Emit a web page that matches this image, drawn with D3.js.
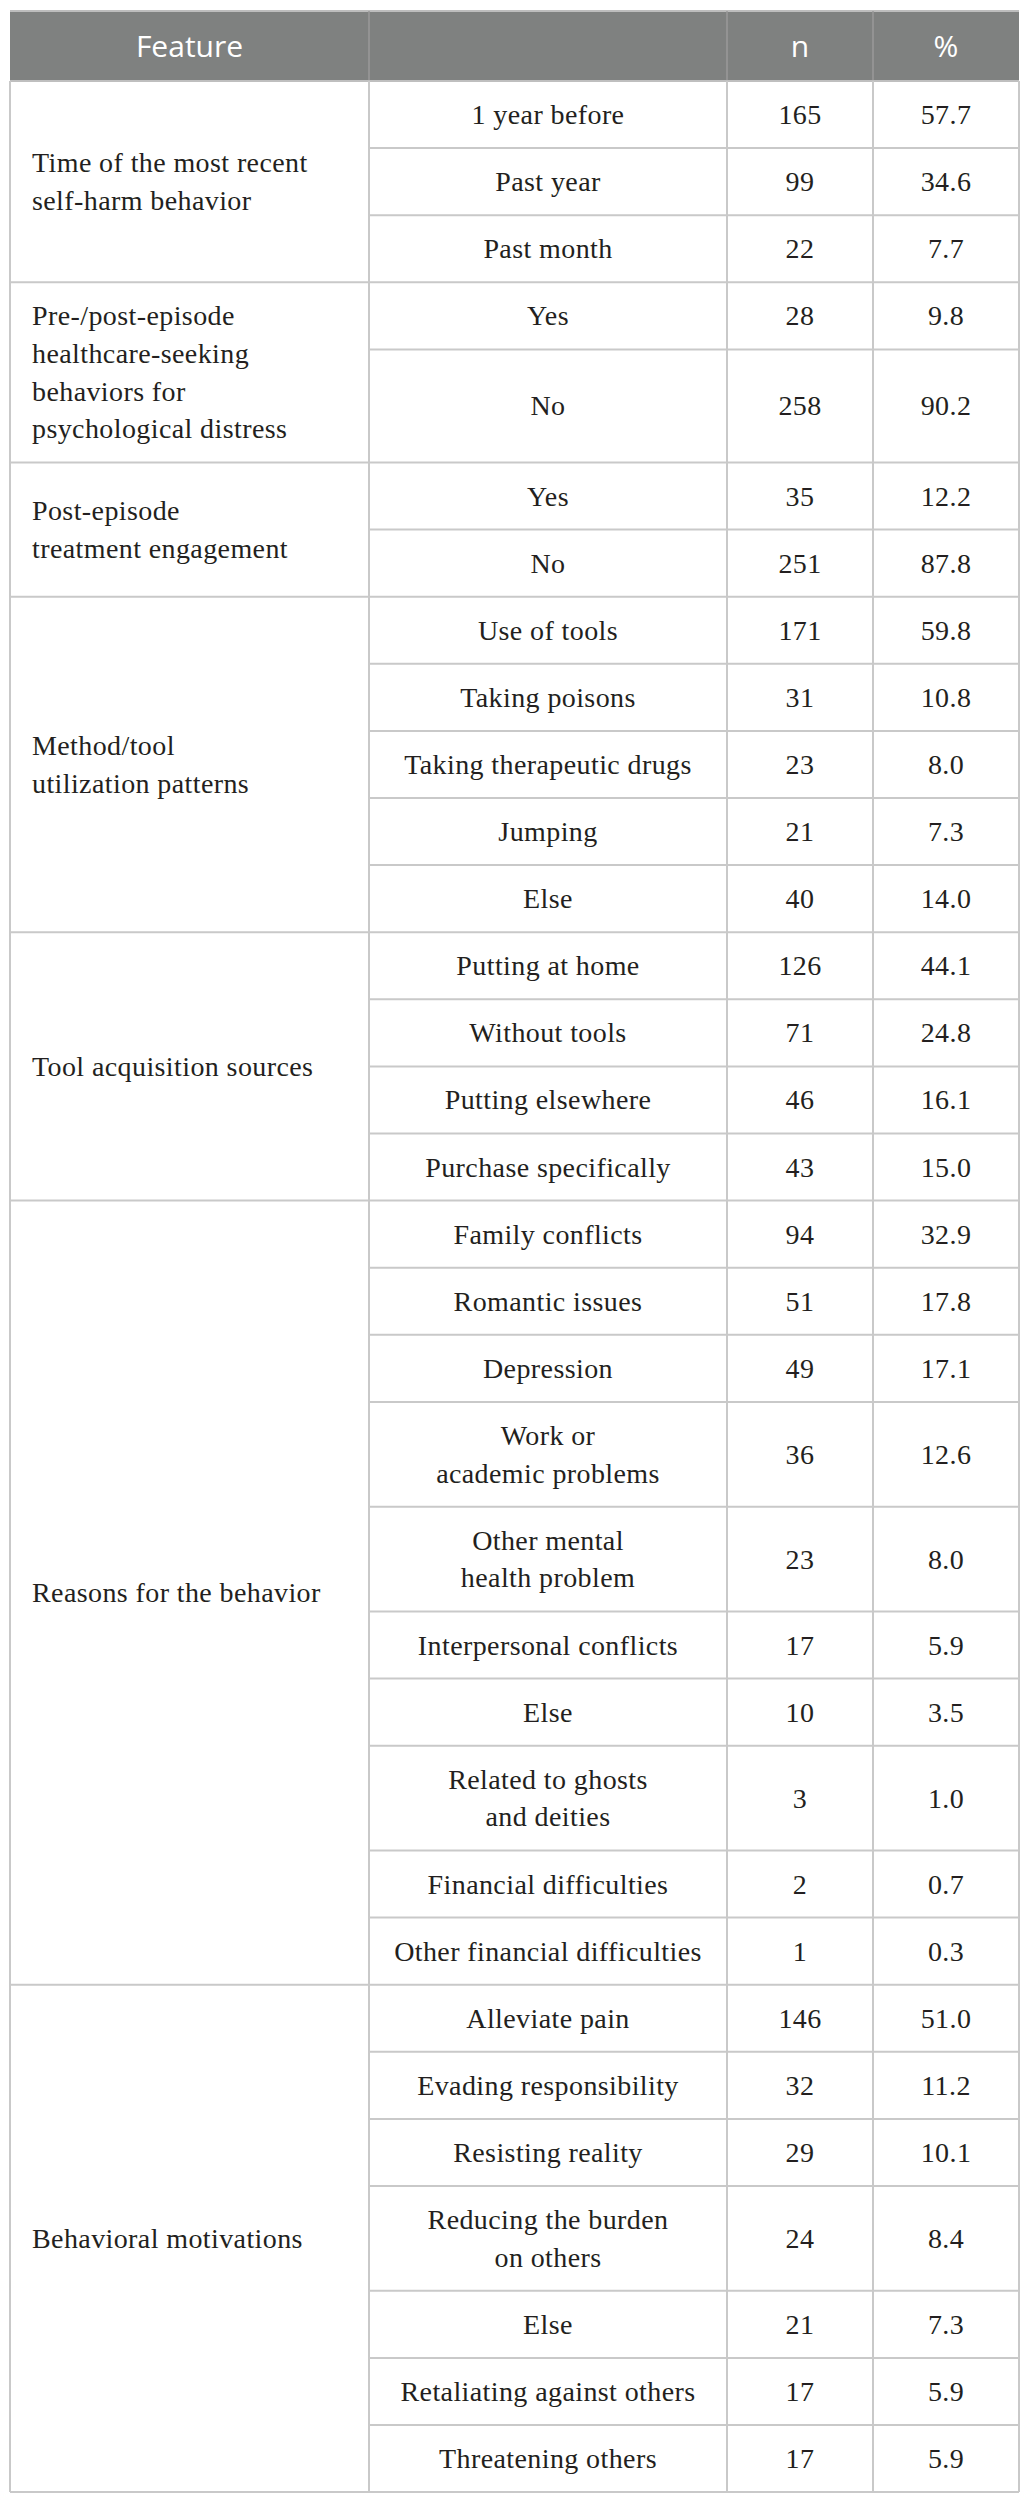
<!DOCTYPE html>
<html>
<head>
<meta charset="utf-8">
<script src="https://cdn.jsdelivr.net/npm/d3@7"></script>
<style>
  html, body { margin: 0; padding: 0; background: #ffffff; }
  svg { display: block; }
  .serif { font-family: "Liberation Serif", "Times New Roman", "DejaVu Serif", serif; }
  .sans { font-family: "Open Sans", "Noto Sans", sans-serif; }
</style>
</head>
<body>
<script>
// ---------------- DATA ----------------
const headers = ["Feature", "", "n", "%"];

const features = [
  ["Time of the most recent", "self-harm behavior"],
  ["Pre-/post-episode", "healthcare-seeking", "behaviors for", "psychological distress"],
  ["Post-episode", "treatment engagement"],
  ["Method/tool", "utilization patterns"],
  ["Tool acquisition sources"],
  ["Reasons for the behavior"],
  ["Behavioral motivations"]
];

const groupItems = [
  [["1 year before"], ["Past year"], ["Past month"]],
  [["Yes"], ["No"]],
  [["Yes"], ["No"]],
  [["Use of tools"], ["Taking poisons"], ["Taking therapeutic drugs"], ["Jumping"], ["Else"]],
  [["Putting at home"], ["Without tools"], ["Putting elsewhere"], ["Purchase specifically"]],
  [["Family conflicts"], ["Romantic issues"], ["Depression"], ["Work or", "academic problems"],
   ["Other mental", "health problem"], ["Interpersonal conflicts"], ["Else"],
   ["Related to ghosts", "and deities"], ["Financial difficulties"], ["Other financial difficulties"]],
  [["Alleviate pain"], ["Evading responsibility"], ["Resisting reality"], ["Reducing the burden", "on others"],
   ["Else"], ["Retaliating against others"], ["Threatening others"]]
];

const groupN = [
  [165, 99, 22],
  [28, 258],
  [35, 251],
  [171, 31, 23, 21, 40],
  [126, 71, 46, 43],
  [94, 51, 49, 36, 23, 17, 10, 3, 2, 1],
  [146, 32, 29, 24, 21, 17, 17]
];

const groupPct = [
  ["57.7", "34.6", "7.7"],
  ["9.8", "90.2"],
  ["12.2", "87.8"],
  ["59.8", "10.8", "8.0", "7.3", "14.0"],
  ["44.1", "24.8", "16.1", "15.0"],
  ["32.9", "17.8", "17.1", "12.6", "8.0", "5.9", "3.5", "1.0", "0.7", "0.3"],
  ["51.0", "11.2", "10.1", "8.4", "7.3", "5.9", "5.9"]
];

// ---------------- LAYOUT ----------------
const W = 1025, H = 2501;
const leftX = 10, rightX = 1019, topY = 11;
const headerH = 70;
const lineH = 37.7, pad = 14.7;
const colEdges = [leftX, 369, 727, 873, rightX];

const svg = d3.select("body").append("svg")
  .attr("width", W).attr("height", H)
  .attr("viewBox", `0 0 ${W} ${H}`);

const rows = [];
const groups = [];
let cursor = 0;
features.forEach((feat, gi) => {
  const items = groupItems[gi];
  const heights = items.map(it => it.length * lineH + 2 * pad);
  const sum = d3.sum(heights);
  const labelH = feat.length * lineH + 2 * pad;
  if (labelH > sum) heights[heights.length - 1] += labelH - sum;
  const gStart = cursor;
  items.forEach((it, ri) => {
    rows.push({ gi, ri, lines: it, n: groupN[gi][ri], pct: groupPct[gi][ri],
      y0: cursor, y1: cursor + heights[ri], first: ri === 0 });
    cursor += heights[ri];
  });
  groups.push({ gi, lines: feat, y0: gStart, y1: cursor });
});
const total = cursor;

const y = d3.scaleLinear().domain([0, total]).range([topY + headerH, topY + headerH + total]);
const x = d3.scaleOrdinal().domain([0, 1, 2, 3, 4]).range(colEdges);
const colCenter = i => (x(i) + x(i + 1)) / 2;

const lineColor = "#c9c9c9";
const fs = 28;

// Header
svg.append("rect")
  .attr("x", leftX).attr("y", topY)
  .attr("width", rightX - leftX).attr("height", headerH)
  .attr("fill", "#7f8180");

svg.append("line")
  .attr("x1", leftX).attr("x2", rightX).attr("y1", topY).attr("y2", topY)
  .attr("stroke", "#bdbdbd").attr("stroke-width", 2);

headers.forEach((h, i) => {
  if (!h) return;
  svg.append("text")
    .attr("class", "sans")
    .attr("x", colCenter(i)).attr("y", topY + headerH / 2)
    .attr("dy", "0.36em")
    .attr("text-anchor", "middle")
    .style("font-size", "30px")
    .attr("fill", "#ffffff")
    .text(h);
});

[1, 2, 3].forEach(i => {
  svg.append("line")
    .attr("x1", x(i)).attr("x2", x(i))
    .attr("y1", topY).attr("y2", topY + headerH)
    .attr("stroke", "#9a9a9a").attr("stroke-width", 1.5);
});

const grid = svg.append("g").attr("stroke", lineColor).attr("stroke-width", 2);

grid.append("line").attr("x1", leftX).attr("x2", rightX)
  .attr("y1", y(0)).attr("y2", y(0)).attr("stroke", "#bfbfbf");

rows.forEach(r => {
  if (r.y0 === 0) return;
  grid.append("line")
    .attr("x1", r.first ? leftX : x(1)).attr("x2", rightX)
    .attr("y1", y(r.y0)).attr("y2", y(r.y0));
});
grid.append("line").attr("x1", leftX).attr("x2", rightX)
  .attr("y1", y(total)).attr("y2", y(total));

[0, 1, 2, 3, 4].forEach(i => {
  grid.append("line")
    .attr("x1", x(i)).attr("x2", x(i))
    .attr("y1", y(0)).attr("y2", y(total));
});

function multiline(g, lines, cx, cyMid, anchor) {
  const n = lines.length;
  const t = g.append("text")
    .attr("class", "serif")
    .attr("text-anchor", anchor)
    .style("font-size", fs + "px")
    .style("letter-spacing", "0.4px")
    .attr("fill", "#231f20");
  lines.forEach((ln, k) => {
    t.append("tspan")
      .attr("x", cx)
      .attr("y", cyMid + (k - (n - 1) / 2) * lineH)
      .attr("dy", "0.34em")
      .text(ln);
  });
}

const body = svg.append("g");

groups.forEach(gr => {
  multiline(body, gr.lines, leftX + 22, (y(gr.y0) + y(gr.y1)) / 2, "start");
});

rows.forEach(r => {
  const cy = (y(r.y0) + y(r.y1)) / 2;
  multiline(body, r.lines, colCenter(1), cy, "middle");
  multiline(body, [String(r.n)], colCenter(2), cy, "middle");
  multiline(body, [r.pct], colCenter(3), cy, "middle");
});
</script>
</body>
</html>
